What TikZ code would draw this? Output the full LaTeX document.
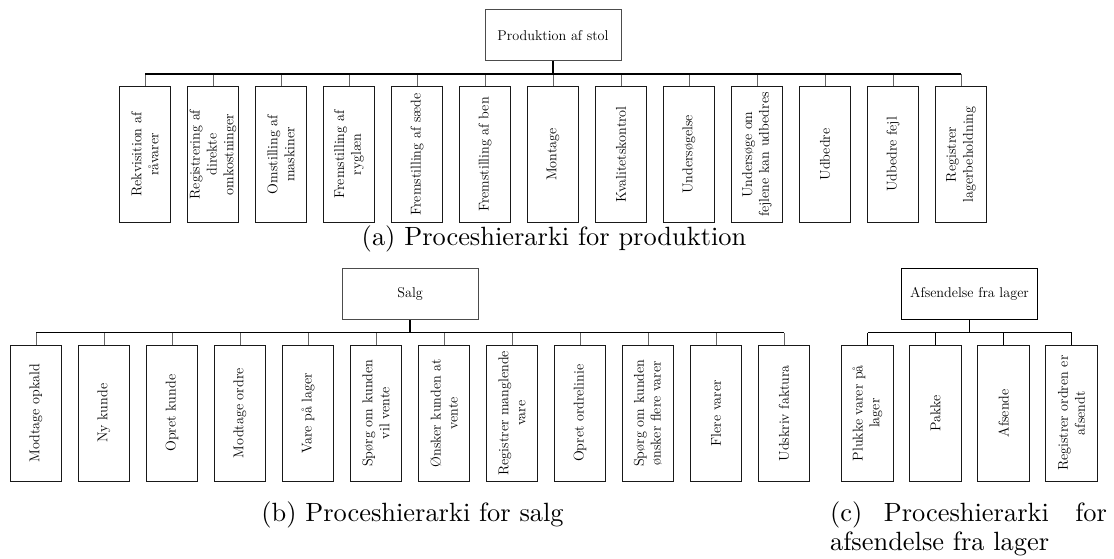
\documentclass[tikz,border=0pt]{standalone}
\usepackage{graphicx}
\tikzset{
  box/.style={draw=black!90, line width=1.1pt, rotate=90, minimum width=136pt, minimum height=51.5pt, inner sep=0pt, align=center, font=\fontsize{14.2}{16.9}\selectfont},
  rootbox/.style={draw=black!70, line width=1pt, minimum width=136pt, minimum height=51.5pt, inner sep=0pt, font=\fontsize{14.2}{16.9}\selectfont},
  drop/.style={draw=black!60, line width=1pt},
  bar/.style={draw=black, line width=2pt},
  thinbar/.style={draw=black, line width=1pt},
  captext/.style={inner sep=0pt},
}
\begin{document}
\begin{tikzpicture}[x=1pt,y=-1pt]
\fill[white] (0,0) rectangle (1114,558);
\useasboundingbox (0,0) rectangle (1114,558);

% ---------- (a) ----------
\node[rootbox] (ra) at (553,35.2) {Produktion af stol};
\coordinate (ba) at (553,73.7);
\foreach \t [count=\i] in {{Rekvisition af\\råvarer},{Registrering af\\direkte\\omkostninger},{Omstilling af\\maskiner},{Fremstilling af\\ryglæn},{Fremstilling af sæde},{Fremstilling af ben},{Montage},{Kvalitetskontrol},{Undersøgelse},{Undersøge om\\fejlene kan udbedres},{Udbedre},{Udbedre fejl},{Registrer\\lagerbeholdning}}
  \node[box] (a\i) at ({145+68*(\i-1)},154.5) {\t};
\foreach \i in {1,...,13}
  \draw[drop] (a\i.east) -- (a\i.east |- ba);
\draw[bar] (a1.east |- ba) -- (a13.east |- ba);
\draw[bar] (ra.south) -- (ba);
\node[captext, anchor=base] (capa) at (554,245) {\scalebox{2.64}{(a) Proceshierarki for produktion}};

% ---------- (b) ----------
\node[rootbox] (rb) at (410.2,293.8) {Salg};
\coordinate (bb) at (410.2,332.7);
\foreach \t [count=\i] in {{Modtage opkald},{Ny kunde},{Opret kunde},{Modtage ordre},{Vare på lager},{Spørg om kunden\\vil vente},{Ønsker kunden at\\vente},{Registrer manglende\\vare},{Opret ordrelinie},{Spørg om kunden\\ønsker flere varer},{Flere varer},{Udskriv faktura}}
  \node[box] (b\i) at ({36+68*(\i-1)},413.2) {\t};
\foreach \i in {1,...,12}
  \draw[drop] (b\i.east) -- (b\i.east |- bb);
\draw[bar, line width=1.4pt] (b1.east |- bb) -- (b12.east |- bb);
\draw[bar, line width=1.6pt] (rb.south) -- (bb);
\node[captext, anchor=base] (capb) at (412.5,521) {\scalebox{2.64}{(b) Proceshierarki for salg}};

% ---------- (c) ----------
\node[rootbox, draw=black] (rc) at (969.5,293.8) {Afsendelse fra lager};
\coordinate (bc) at (969.5,332.7);
\foreach \t [count=\i] in {{Plukke varer på\\lager},{Pakke},{Afsende},{Registrer ordren er\\afsendt}}
  \node[box] (c\i) at ({867.5+68*(\i-1)},413.2) {\t};
\foreach \i in {1,...,4}
  \draw[thinbar] (c\i.east) -- (c\i.east |- bc);
\draw[thinbar] (c1.east |- bc) -- (c4.east |- bc);
\draw[thinbar] (rc.south) -- (bc);
\node[captext, anchor=base west] (capc) at (830,521) {\scalebox{2.64}{\parbox[t]{104.8pt}{\fontsize{10}{11}\selectfont (c)\hspace{8.1pt}Proceshierarki\hfill for\\afsendelse fra lager}}};
\end{tikzpicture}
\end{document}
